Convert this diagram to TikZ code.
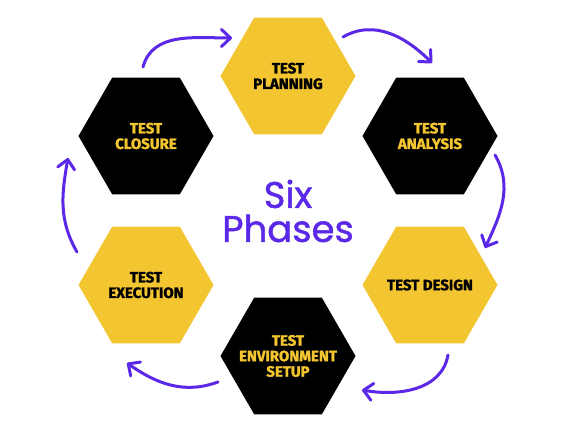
\documentclass[tikz,border=0pt]{standalone}
\usepackage{fontspec}
\setmainfont{Fira Sans}[BoldFeatures={FakeBold=1.5}]
\newfontfamily\handfont{Poppins}[FakeBold=1.2]
\usetikzlibrary{shapes.geometric,arrows.meta,calc}
\definecolor{hexyellow}{HTML}{F3C530}
\definecolor{arrowpurple}{HTML}{5A28E6}
\begin{document}
\begin{tikzpicture}[x=1pt,y=1pt,
  hexa/.style={regular polygon, regular polygon sides=6, minimum size=135pt,
    inner sep=-20pt, align=center, font=\fontsize{15}{15.5}\selectfont\bfseries},
  hexlight/.style={hexa, fill=hexyellow, text=black},
  hexdark/.style={hexa, fill=black, text=hexyellow},
  cyclearrow/.style={draw=arrowpurple, line width=3pt, line cap=round,
    -{Straight Barb[length=9pt,width=17pt,round]}}]
\useasboundingbox (0,0) rectangle (577,433);
% the six phases
\node[hexlight] (planning) at (288,357) {TEST\\PLANNING};
\node[hexdark] (analysis) at (430,297) {TEST\\ANALYSIS};
\node[hexlight] (design) at (430,148) {TEST DESIGN};
\node[hexdark] (setup) at (288,77) {TEST\\ENVIRONMENT\\SETUP};
\node[hexlight] (execution) at (146,148) {TEST\\EXECUTION};
\node[hexdark] (closure) at (146,297) {TEST\\CLOSURE};
\node[text=arrowpurple, align=center,
  font=\handfont\fontsize{37}{34}\selectfont] (title) at (288,222) {Six\\Phases};
% arrows round the cycle
\draw[cyclearrow] ($(closure)+(-3,69)$) to[out=75,in=180] ($(planning)+(-56,38)$);
\draw[cyclearrow] ($(planning)+(55,39)$) to[out=30,in=135] ($(analysis)+(2,73)$);
\draw[cyclearrow] ($(analysis)+(65,-19)$) to[out=-60,in=65] ($(design)+(55,37)$);
\draw[cyclearrow] ($(design)+(18,-70)$) to[out=-100,in=-10] ($(setup)+(74,-34)$);
\draw[cyclearrow] ($(setup)+(-70,-26)$) to[out=200,in=-35] ($(execution)+(-19,-78)$);
\draw[cyclearrow] ($(execution)+(-69,33)$) to[out=120,in=-100] ($(closure)+(-78,-22)$);
\end{tikzpicture}
\end{document}
